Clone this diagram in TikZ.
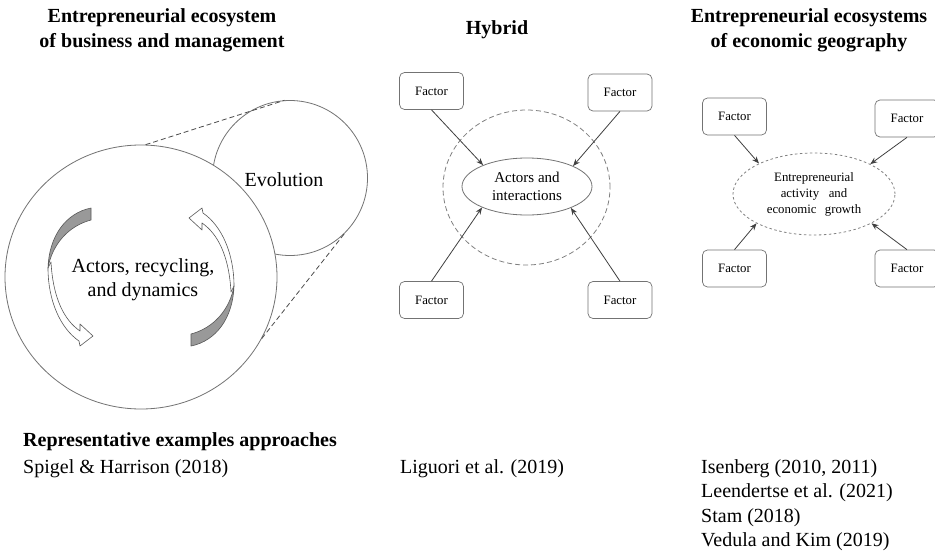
\documentclass[tikz,border=0pt]{standalone}
\usepackage{fontspec}
\setmainfont{Liberation Serif}
\usetikzlibrary{shapes.geometric,arrows.meta}
\newcommand\TwistArrow{%
  \filldraw[fill=white, draw=black!65, line width=0.6pt]
    (48,268) .. controls (48,300) and (60,328) .. (79,341) -- (80,346) -- (93,336) -- (80,324) -- (80,331)
    .. controls (64,320) and (53,298) .. (51,262) -- cycle;
  \filldraw[fill=black!40, draw=black!65, line width=0.6pt]
    (91,208) .. controls (66,213) and (49,236) .. (48,268)
    .. controls (52,245) and (68,226) .. (91,220) -- cycle;
}
\begin{document}
\begin{tikzpicture}[x=1pt,y=-1pt, line join=round,
  ttl/.style={font=\fontsize{20}{25}\selectfont\bfseries, align=center, inner sep=0pt},
  body/.style={font=\fontsize{20}{25}\selectfont, inner sep=0pt, anchor=base west},
  ring/.style={ellipse, draw=black!55, line width=0.8pt, fill=white, inner sep=0pt},
  factor/.style={draw=black!55, line width=0.7pt, rounded corners=5pt, fill=white,
    minimum width=64pt, minimum height=37pt, inner sep=0pt, font=\fontsize{12.8}{14}\selectfont},
  arr/.style={draw=black!75, line width=0.8pt, -{Stealth[length=7pt,width=5.5pt]}},
  zoomline/.style={draw=black!70, line width=0.8pt, dash pattern=on 5pt off 3pt}
]
\useasboundingbox (0,0) rectangle (935,554);
\fill[white] (0,0) rectangle (935,554);

% titles
\node[ttl] (t1) at (162,30) {Entrepreneurial ecosystem\\of business and management};
\node[ttl] (t2) at (497,30) {Hybrid};
\node[ttl] (t3) at (809,30) {Entrepreneurial ecosystems\\of economic geography};

% left diagram
\node[ring, minimum width=155pt, minimum height=155pt] (small) at (290,178) {};
\node[ring, minimum width=272pt, minimum height=264pt] (big) at (141,277) {};
\draw[zoomline] (big.88) -- (small.94);
\draw[zoomline] (big.-27) -- (small.-46);
\node[font=\fontsize{20}{24}\selectfont, inner sep=0pt] (evo) at (284,180) {Evolution};
\node[font=\fontsize{20}{24}\selectfont, align=center, inner sep=0pt] (ard) at (143,280) {Actors, recycling,\\and dynamics};
\TwistArrow
\begin{scope}[rotate around={180:(141,277)}]
  \TwistArrow
\end{scope}

% middle diagram
\node[ellipse, draw=black!50, line width=0.8pt, dash pattern=on 5pt off 3pt, minimum width=167pt, minimum height=155pt, inner sep=0pt] (hring) at (526.5,187.5) {};
\node[ring, minimum width=130pt, minimum height=57pt, font=\fontsize{15}{18}\selectfont, align=center] (act) at (527,186.5) {Actors and\\interactions};
\node[factor] (mtl) at (431.5,91) {Factor};
\node[factor] (mtr) at (620,92.5) {Factor};
\node[factor] (mbl) at (431.5,300) {Factor};
\node[factor] (mbr) at (620,300) {Factor};
\draw[arr] (mtl.south) -- (act.154.5);
\draw[arr] (mtr.south) -- (act.24);
\draw[arr] (mbl.north) -- (act.205.5);
\draw[arr] (mbr.north) -- (act.-26);

% right diagram
\node[ellipse, draw=black!50, line width=0.8pt, dash pattern=on 2.5pt off 2.5pt, minimum width=162pt, minimum height=82pt, inner sep=0pt, font=\fontsize{12.8}{16}\selectfont, align=center] (eg) at (814,194) {Entrepreneurial\\activity\hspace{0.5em} and\\economic\hspace{0.4em} growth};
\node[factor] (rtl) at (734.5,116.5) {Factor};
\node[factor] (rtr) at (907,118.5) {Factor};
\node[factor] (rbl) at (734.5,268.5) {Factor};
\node[factor] (rbr) at (907,268.5) {Factor};
\draw[arr] (rtl.south) -- (eg.151);
\draw[arr] (rtr.south) -- (eg.28);
\draw[arr] (rbl.north) -- (eg.207);
\draw[arr] (rbr.north) -- (eg.-27);

% bottom texts
\node[body] (ex) at (23,446) {\bfseries Representative examples approaches};
\node[body] (r1) at (23,473.5) {Spigel \& Harrison (2018)};
\node[body] (r2) at (400,473.5) {Liguori et al. (2019)};
\node[body] (r3a) at (701,473.5) {Isenberg (2010, 2011)};
\node[body] (r3b) at (701,497.8) {Leendertse et al. (2021)};
\node[body] (r3c) at (701,522.1) {Stam (2018)};
\node[body] (r3d) at (701,546.4) {Vedula and Kim (2019)};
\end{tikzpicture}
\end{document}
